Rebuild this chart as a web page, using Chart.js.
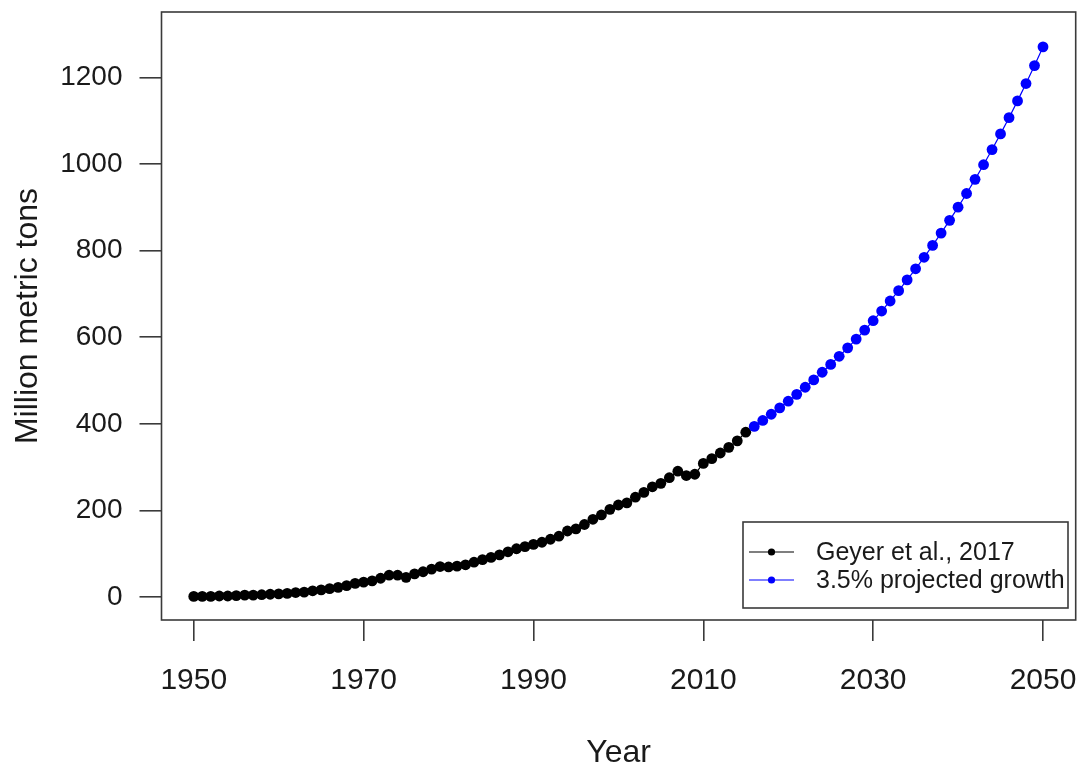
<!DOCTYPE html>
<html>
<head>
<meta charset="utf-8">
<script src="https://cdn.jsdelivr.net/npm/chart.js@4/dist/chart.umd.min.js"></script>
<style>
  html, body { margin: 0; padding: 0; background: #ffffff; }
  #wrap { width: 1083px; height: 770px; position: relative; }
</style>
</head>
<body>
<div id="wrap"><canvas id="c"></canvas></div>
<script>
// ---- Data ----
const histYears = [1950,1951,1952,1953,1954,1955,1956,1957,1958,1959,
  1960,1961,1962,1963,1964,1965,1966,1967,1968,1969,
  1970,1971,1972,1973,1974,1975,1976,1977,1978,1979,
  1980,1981,1982,1983,1984,1985,1986,1987,1988,1989,
  1990,1991,1992,1993,1994,1995,1996,1997,1998,1999,
  2000,2001,2002,2003,2004,2005,2006,2007,2008,2009,
  2010,2011,2012,2013,2014,2015];
const histValues = [2,2,2,3,3,4,5,5,6,7,
  8,9,11,12,15,17,20,23,27,32,
  35,38,44,51,51,46,54,59,65,71,
  70,72,75,81,87,92,98,105,112,117,
  122,127,134,141,153,158,168,180,190,203,
  213,218,231,242,255,263,276,291,281,284,
  309,320,333,346,361,381];
const projYears = [2016,2017,2018,2019,2020,2021,2022,2023,2024,2025,
  2026,2027,2028,2029,2030,2031,2032,2033,2034,2035,
  2036,2037,2038,2039,2040,2041,2042,2043,2044,2045,
  2046,2047,2048,2049,2050];
const projValues = [394.3,408.1,422.4,437.2,452.5,468.3,484.7,501.7,519.3,537.4,
  556.2,575.7,595.9,616.7,638.3,660.6,683.8,707.7,732.5,758.1,
  784.6,812.1,840.5,869.9,900.4,931.9,964.5,998.3,1033.2,1069.4,
  1106.8,1145.6,1185.6,1227.1,1270.1];
const seriesNames = ["Geyer et al., 2017", "3.5% projected growth"];
const xTickValues = [1950,1970,1990,2010,2030,2050];
const yTickValues = [0,200,400,600,800,1000,1200];
const xLabel = "Year";
const yLabel = "Million metric tons";

// ---- Styles ----
const FONT = "'Liberation Sans', Arial, sans-serif";
const AXIS_COLOR = "#3a3a3a";
const TEXT_COLOR = "#1a1a1a";

const histData = histYears.map((y, i) => ({x: y, y: histValues[i]}));
const projData = projYears.map((y, i) => ({x: y, y: projValues[i]}));

const boxPlugin = {
  id: 'rbox',
  afterDraw(chart) {
    const {ctx, chartArea: a} = chart;
    ctx.save();
    ctx.strokeStyle = AXIS_COLOR;
    ctx.lineWidth = 1.6;
    ctx.strokeRect(a.left, a.top, a.right - a.left, a.bottom - a.top);
    ctx.restore();
  }
};

const legendPlugin = {
  id: 'rlegend',
  afterDraw(chart) {
    const ctx = chart.ctx;
    const L = 743, T = 522, R = 1068, B = 608;
    ctx.save();
    ctx.fillStyle = '#ffffff';
    ctx.fillRect(L, T, R - L, B - T);
    ctx.strokeStyle = AXIS_COLOR;
    ctx.lineWidth = 1.6;
    ctx.strokeRect(L, T, R - L, B - T);
    const rows = [552, 580];
    chart.data.datasets.forEach((ds, i) => {
      const yy = rows[i];
      ctx.strokeStyle = ds.borderColor;
      ctx.lineWidth = 1.2;
      ctx.beginPath();
      ctx.moveTo(749, yy);
      ctx.lineTo(794, yy);
      ctx.stroke();
      ctx.fillStyle = ds.pointBackgroundColor;
      ctx.beginPath();
      ctx.arc(771.5, yy, 3.6, 0, Math.PI * 2);
      ctx.fill();
      ctx.fillStyle = TEXT_COLOR;
      ctx.font = "25px " + FONT;
      ctx.textAlign = 'left';
      ctx.textBaseline = 'middle';
      ctx.fillText(ds.label, 816, yy + 1);
    });
    ctx.restore();
  }
};

new Chart(document.getElementById('c'), {
  type: 'line',
  data: {
    datasets: [
      {
        label: seriesNames[0],
        data: histData,
        borderColor: '#000000',
        backgroundColor: '#000000',
        pointBackgroundColor: '#000000',
        pointBorderWidth: 0,
        pointRadius: 5.4,
        borderWidth: 1.2,
        tension: 0,
        order: 1
      },
      {
        label: seriesNames[1],
        data: projData,
        borderColor: '#0000ff',
        backgroundColor: '#0000ff',
        pointBackgroundColor: '#0000ff',
        pointBorderWidth: 0,
        pointRadius: 5.4,
        borderWidth: 1.2,
        tension: 0,
        order: 0
      }
    ]
  },
  options: {
    responsive: true,
    maintainAspectRatio: false,
    animation: false,
    events: [],
    layout: { padding: { left: 0, right: 7.3, top: 12, bottom: 0 } },
    plugins: { legend: { display: false }, tooltip: { enabled: false } },
    scales: {
      x: {
        type: 'linear',
        min: 1946.2,
        max: 2053.85,
        afterBuildTicks(scale) { scale.ticks = xTickValues.map(v => ({value: v})); },
        afterFit(scale) { scale.height = 150; scale.paddingLeft = 0; scale.paddingRight = 0; },
        border: { display: false },
        grid: { display: true, drawOnChartArea: false, drawTicks: true, tickLength: 21, color: AXIS_COLOR, lineWidth: 1.6 },
        ticks: {
          color: TEXT_COLOR,
          font: { family: FONT, size: 30, lineHeight: 1.2 },
          padding: 22,
          maxRotation: 0,
          autoSkip: false,
          callback: v => String(v)
        },
        title: {
          display: true,
          text: xLabel,
          color: TEXT_COLOR,
          font: { family: FONT, size: 32, lineHeight: 1.0 },
          padding: { top: 0, bottom: 1 }
        }
      },
      y: {
        type: 'linear',
        min: -52.4,
        max: 1350.7,
        afterBuildTicks(scale) { scale.ticks = yTickValues.map(v => ({value: v})); },
        afterFit(scale) { scale.width = 161.5; scale.paddingTop = 0; scale.paddingBottom = 0; },
        border: { display: false },
        grid: { display: true, drawOnChartArea: false, drawTicks: true, tickLength: 22, color: AXIS_COLOR, lineWidth: 1.6 },
        ticks: {
          color: TEXT_COLOR,
          font: { family: FONT, size: 28, lineHeight: 1.2 },
          padding: 17,
          autoSkip: false,
          callback: v => String(v)
        },
        title: {
          display: true,
          text: yLabel,
          color: TEXT_COLOR,
          font: { family: FONT, size: 32, lineHeight: 1.0 },
          padding: { top: 12, bottom: 0 }
        }
      }
    }
  },
  plugins: [boxPlugin, legendPlugin]
});
</script>
</body>
</html>
